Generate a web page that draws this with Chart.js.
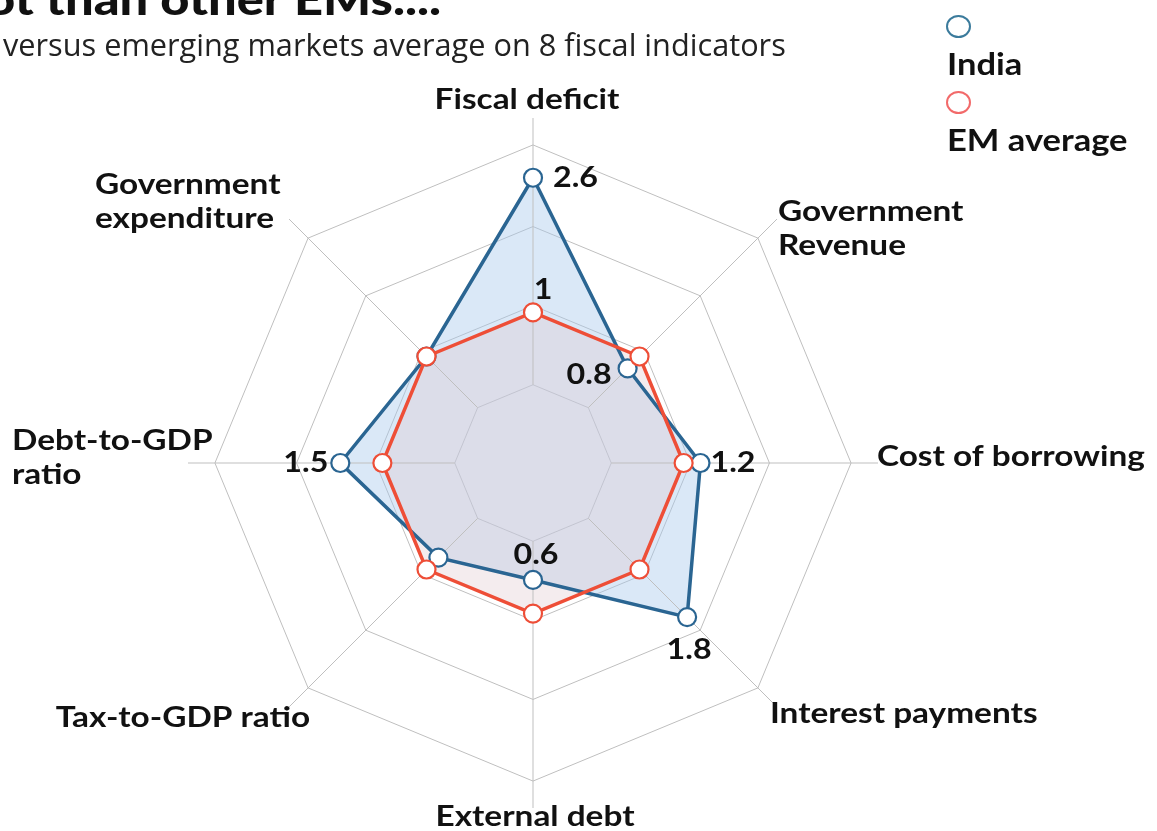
<!DOCTYPE html>
<html>
<head>
<meta charset="utf-8">
<script src="https://cdn.jsdelivr.net/npm/chart.js@4.4.1/dist/chart.umd.min.js"></script>
<style>
html,body{margin:0;padding:0;background:#fff;width:1157px;height:831px;overflow:hidden;}
#wrap{position:absolute;left:0;top:0;width:1157px;height:831px;}
canvas{position:absolute;left:0;top:0;}
.txt{position:absolute;white-space:nowrap;color:#111;transform-origin:0 0;}
#title{left:-14px;top:-24px;font:900 44px/44px Lato,sans-serif;transform:scaleX(1.15);}
#sub{left:3px;top:29px;font:400 31px/31px 'Open Sans',sans-serif;color:#222;transform:scaleX(0.99);}
.leg{left:947px;font:700 30px/30px Lato,sans-serif;transform:scaleX(1.15);}
.dot{position:absolute;width:25px;height:23px;border-radius:50%;box-sizing:border-box;border:2.5px solid;background:#fff;}
</style>
</head>
<body>
<div id="wrap">
  <canvas id="c" width="1157" height="831"></canvas>
  <div class="txt" id="title">ot than other EMs....</div>
  <div class="txt" id="sub">versus emerging markets average on 8 fiscal indicators</div>
  <div class="dot" style="left:946px;top:15px;border-color:#3b7b9c"></div>
  <div class="txt leg" style="top:48px">India</div>
  <div class="dot" style="left:946px;top:91px;border-color:#f26a6a"></div>
  <div class="txt leg" style="top:124px">EM average</div>
</div>
<script>
// ---------- data ----------
const categories = ["Fiscal deficit", "Government Revenue", "Cost of borrowing", "Interest payments",
                    "External debt", "Tax-to-GDP ratio", "Debt-to-GDP ratio", "Government expenditure"];
const seriesNames = ["India", "EM average"];
const indiaValues = [2.6, 0.8, 1.2, 1.8, 0.6, 0.8, 1.5, 1.0];
const emValues    = [1, 1, 1, 1, 1, 1, 1, 1];
const ringValues  = [0.14, 1.08, 2.02, 2.99];   // grid rings
const scaleMin = -0.79;
const scaleMax = 3.31;

// ---------- styles ----------
const INDIA_COLOR = "#2a6592";
const EM_COLOR = "#ee4e37";
const GRID_COLOR = "#bfbfbf";
const TEXT_COLOR = "#111";
const SX = 1.15;   // horizontal stretch of text
const catLines = [["Fiscal deficit"], ["Government", "Revenue"], ["Cost of borrowing"], ["Interest payments"],
                  ["External debt"], ["Tax-to-GDP ratio"], ["Debt-to-GDP", "ratio"], ["Government", "expenditure"]];
const catStyle = [
  {dx: -6, dy: -18, align: "center"},
  {dx: 1, dy: -7, align: "left"},
  {dx: -1, dy: -6, align: "left"},
  {dx: -7, dy: 7, align: "left"},
  {dx: 2, dy: 9, align: "center"},
  {dx: 21, dy: 11, align: "right"},
  {dx: -176, dy: -22, align: "left"},
  {dx: -194, dy: -34, align: "left"}
];
const catLineHeight = 34;
// value annotations: [datasetIndex, pointIndex, dx, dy, align]
const valueLabels = [
  [0, 0, 20, 0, "left"],
  [1, 0, 10, -22, "center"],
  [0, 1, -16, 7, "right"],
  [0, 2, 10, 0, "left"],
  [0, 3, 2, 33, "center"],
  [0, 4, 3, -25, "center"],
  [0, 6, -12, 0, "right"]
];

function drawText(ctx, text, x, y, align, font) {
  ctx.save();
  ctx.translate(x, y);
  ctx.scale(SX, 1);
  ctx.font = font;
  ctx.fillStyle = TEXT_COLOR;
  ctx.textAlign = align;
  ctx.textBaseline = "middle";
  ctx.fillText(text, 0, 0);
  ctx.restore();
}

const axesPlugin = {
  id: "axesLines",
  beforeDatasetsDraw(chart) {
    const s = chart.scales.r, ctx = chart.ctx;
    const d0 = s.getDistanceFromCenterForValue(ringValues[0]);
    const d1 = s.getDistanceFromCenterForValue(scaleMax);
    ctx.save();
    ctx.strokeStyle = GRID_COLOR;
    ctx.lineWidth = 1;
    for (let i = 0; i < categories.length; i++) {
      const a = s.getPointPosition(i, d0), b = s.getPointPosition(i, d1);
      ctx.beginPath(); ctx.moveTo(a.x, a.y); ctx.lineTo(b.x, b.y); ctx.stroke();
    }
    ctx.restore();
  }
};

const labelsPlugin = {
  id: "labels",
  afterDraw(chart) {
    const s = chart.scales.r, ctx = chart.ctx;
    const dMax = s.getDistanceFromCenterForValue(scaleMax);
    categories.forEach((c, i) => {
      const p = s.getPointPosition(i, dMax);
      const st = catStyle[i];
      catLines[i].forEach((line, k) => {
        drawText(ctx, line, p.x + st.dx, p.y + st.dy + k * catLineHeight, st.align, "700 29px Lato");
      });
    });
    valueLabels.forEach(([ds, i, dx, dy, align]) => {
      const el = chart.getDatasetMeta(ds).data[i];
      const v = chart.data.datasets[ds].data[i];
      drawText(ctx, String(v), el.x + dx, el.y + dy, align, "700 28px Lato");
    });
  }
};

new Chart(document.getElementById("c"), {
  type: "radar",
  data: {
    labels: categories,
    datasets: [
      {
        label: seriesNames[0], data: indiaValues, order: 1,
        borderColor: INDIA_COLOR, borderWidth: 3.5,
        backgroundColor: "rgba(168,200,236,0.42)", fill: "start",
        pointRadius: 9, pointBorderWidth: 2.2, pointBackgroundColor: "#fff", pointBorderColor: INDIA_COLOR,
        pointHoverRadius: 9
      },
      {
        label: seriesNames[1], data: emValues, order: 0,
        borderColor: EM_COLOR, borderWidth: 3.5,
        backgroundColor: "rgba(222,198,206,0.34)", fill: "start",
        pointRadius: 9, pointBorderWidth: 2.2, pointBackgroundColor: "#fff", pointBorderColor: EM_COLOR,
        pointHoverRadius: 9
      }
    ]
  },
  options: {
    responsive: false,
    animation: false,
    layout: {padding: {left: 188, right: 279, top: 118, bottom: 23}},
    plugins: {legend: {display: false}, tooltip: {enabled: false}, filler: {drawTime: "beforeDatasetsDraw"}},
    elements: {line: {tension: 0}},
    scales: {
      r: {
        min: scaleMin, max: scaleMax,
        ticks: {display: false},
        afterBuildTicks: (axis) => {
          axis.ticks = [scaleMin, ...ringValues, scaleMax].map(v => ({value: v}));
        },
        grid: {
          circular: false, lineWidth: 1,
          color: (ctx) => (ctx.tick && ctx.tick.value === scaleMax) ? "rgba(0,0,0,0)" : GRID_COLOR
        },
        angleLines: {display: false},
        pointLabels: {display: false}
      }
    }
  },
  plugins: [axesPlugin, labelsPlugin]
});
</script>
</body>
</html>
